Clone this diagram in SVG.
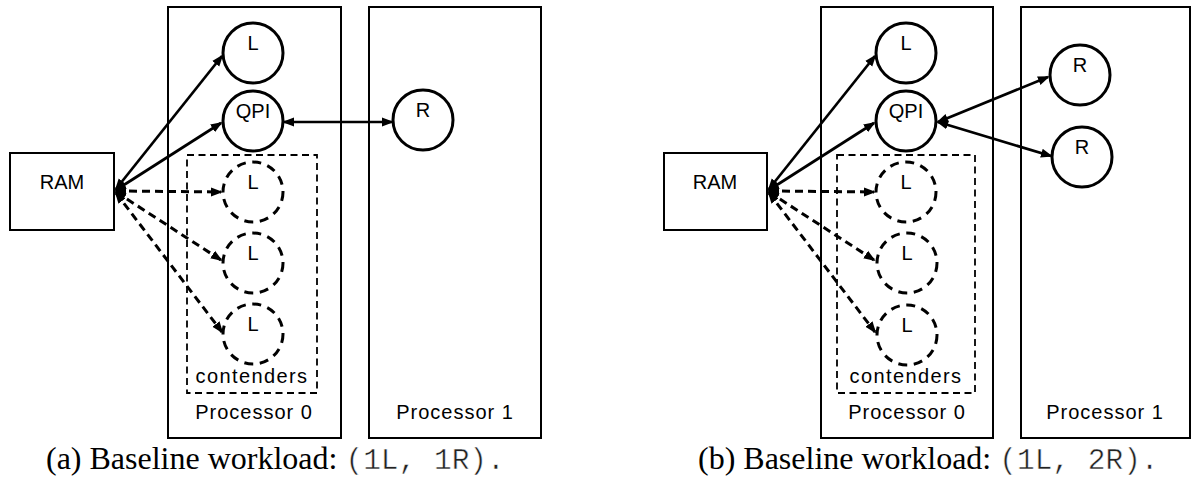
<svg xmlns="http://www.w3.org/2000/svg" width="1192" height="486" viewBox="0 0 1192 486">
<style>
.bg{fill:#fff}
.box{fill:none;stroke:#000;stroke-width:2}
.ram{fill:#fff;stroke:#000;stroke-width:2}
.node{fill:#fff;stroke:#000;stroke-width:3}
.dnode{fill:#fff;stroke:#000;stroke-width:3;stroke-dasharray:9 6.6}
.cbox{fill:none;stroke:#000;stroke-width:1.8;stroke-dasharray:7 4.5}
.lbl{font-family:"Liberation Sans",Arial,sans-serif;font-size:20px;text-anchor:middle;fill:#000}
.plbl{font-family:"Liberation Sans",Arial,sans-serif;font-size:20px;letter-spacing:1px;text-anchor:middle;fill:#000}
.clbl{font-family:"Liberation Sans",Arial,sans-serif;font-size:20px;letter-spacing:1.4px;text-anchor:middle;fill:#000}
.cap{font-family:"Liberation Serif","Times New Roman",serif;font-size:32px;fill:#000}
.mono{font-family:"Liberation Mono","Courier New",monospace;font-size:29.5px;fill:#222;stroke:#fff;stroke-width:0.5px}
.conn{fill:none;stroke:#000;stroke-width:2.7;marker-start:url(#ah);marker-end:url(#ah)}
.dash{stroke-width:3;stroke-dasharray:8 5}
</style>
<defs>
<marker id="ah" markerUnits="userSpaceOnUse" markerWidth="12" markerHeight="10" refX="10" refY="4.5" orient="auto-start-reverse" viewBox="0 0 12 9">
<path d="M0,0 L12,4.5 L0,9 z" fill="#000"/>
</marker>
</defs>
<rect class="bg" x="0" y="0" width="1192" height="486"/>

<!-- Panel (a) -->
<g id="a-proc0"><rect class="box" x="168" y="7" width="173" height="431"/><text class="plbl" x="254" y="419">Processor 0</text></g>
<g id="a-proc1"><rect class="box" x="369" y="7" width="172" height="431"/><text class="plbl" x="455" y="419">Processor 1</text></g>
<g id="a-contenders"><rect class="cbox" x="187" y="155" width="130" height="238"/><text class="clbl" x="252" y="383">contenders</text></g>
<g id="a-ram"><rect class="ram" x="10" y="153" width="104" height="77"/><text class="lbl" x="62" y="189">RAM</text></g>

<g id="a-connectors">
<path class="conn" d="M116,189 L222,56"/>
<path class="conn" d="M116,190 L221,123"/>
<path class="conn dash" d="M116,191 L221,192"/>
<path class="conn dash" d="M116,192 L221,260"/>
<path class="conn dash" d="M116,193 L222,332"/>
<path class="conn" d="M284,122 L392,122"/>
</g>

<g id="a-L"><circle class="node" cx="253" cy="53" r="30"/><text class="lbl" x="253" y="50">L</text></g>
<g id="a-QPI"><circle class="node" cx="253" cy="121" r="30"/><text class="lbl" x="253" y="118">QPI</text></g>
<g id="a-L1"><circle class="dnode" cx="253" cy="192" r="30"/><text class="lbl" x="253" y="189">L</text></g>
<g id="a-L2"><circle class="dnode" cx="253" cy="263" r="30"/><text class="lbl" x="253" y="260">L</text></g>
<g id="a-L3"><circle class="dnode" cx="253" cy="334" r="30"/><text class="lbl" x="253" y="331">L</text></g>
<g id="a-R"><circle class="node" cx="423" cy="120" r="30"/><text class="lbl" x="423" y="117">R</text></g>

<text class="cap" x="46" y="469">(a) Baseline workload: <tspan class="mono">(1L, 1R).</tspan></text>

<!-- Panel (b) -->
<g id="b-proc0"><rect class="box" x="821" y="7" width="172" height="431"/><text class="plbl" x="907" y="419">Processor 0</text></g>
<g id="b-proc1"><rect class="box" x="1021" y="7" width="169" height="431"/><text class="plbl" x="1105" y="419">Processor 1</text></g>
<g id="b-contenders"><rect class="cbox" x="837" y="155" width="138" height="238"/><text class="clbl" x="906" y="383">contenders</text></g>
<g id="b-ram"><rect class="ram" x="664" y="153" width="103" height="77"/><text class="lbl" x="715" y="189">RAM</text></g>

<g id="b-connectors">
<path class="conn" d="M769,189 L875,56"/>
<path class="conn" d="M769,190 L874,123"/>
<path class="conn dash" d="M769,191 L874,192"/>
<path class="conn dash" d="M769,192 L874,260"/>
<path class="conn dash" d="M769,193 L875,332"/>
<path class="conn" d="M938,122 L1048,77"/>
<path class="conn" d="M938,122 L1051,156"/>
</g>

<g id="b-L"><circle class="node" cx="906" cy="53" r="30"/><text class="lbl" x="906" y="50">L</text></g>
<g id="b-QPI"><circle class="node" cx="906" cy="121" r="30"/><text class="lbl" x="906" y="118">QPI</text></g>
<g id="b-L1"><circle class="dnode" cx="906" cy="192" r="30"/><text class="lbl" x="906" y="189">L</text></g>
<g id="b-L2"><circle class="dnode" cx="907" cy="263" r="30"/><text class="lbl" x="907" y="260">L</text></g>
<g id="b-L3"><circle class="dnode" cx="907" cy="335" r="30"/><text class="lbl" x="907" y="332">L</text></g>
<g id="b-R1"><circle class="node" cx="1080" cy="75" r="30"/><text class="lbl" x="1080" y="72">R</text></g>
<g id="b-R2"><circle class="node" cx="1082" cy="157" r="30"/><text class="lbl" x="1082" y="154">R</text></g>

<text class="cap" x="698" y="469">(b) Baseline workload: <tspan class="mono">(1L, 2R).</tspan></text>
</svg>
